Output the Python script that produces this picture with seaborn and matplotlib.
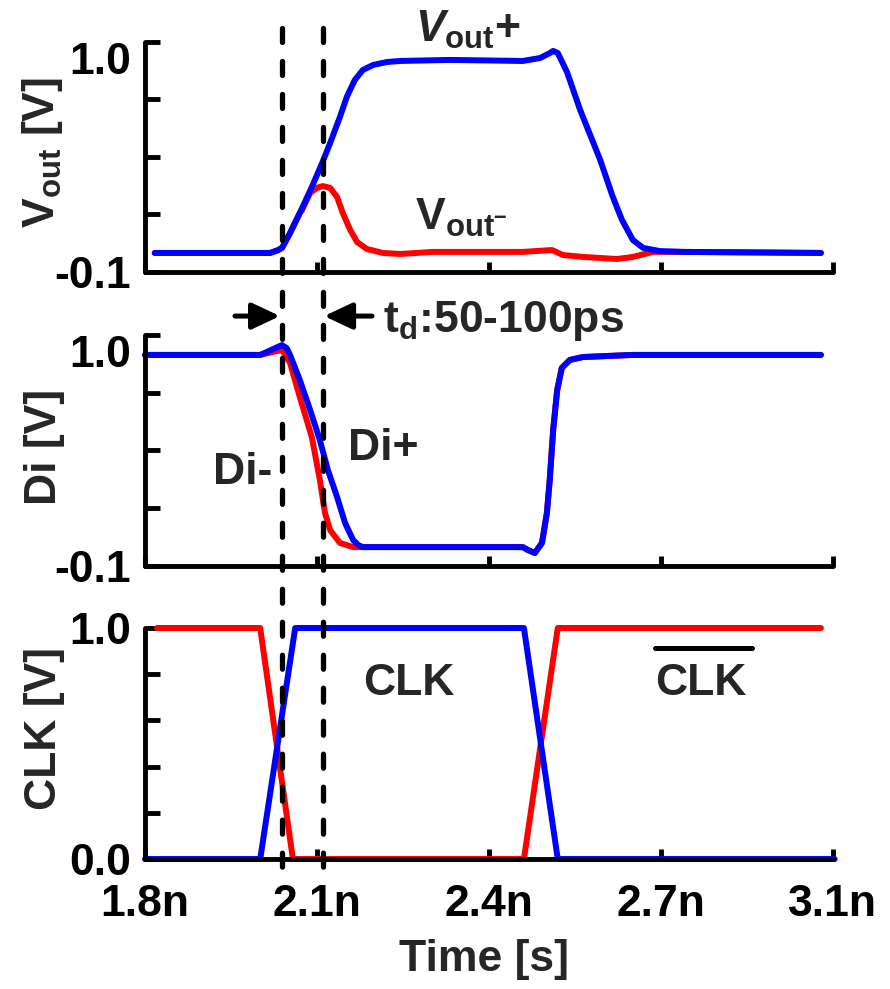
import matplotlib
matplotlib.use("Agg")
import matplotlib.pyplot as plt
import seaborn as sns
import pandas as pd
from matplotlib.lines import Line2D
from matplotlib.transforms import blended_transform_factory

sns.set_style("ticks")
plt.rcParams["font.family"] = ["Liberation Sans", "DejaVu Sans"]
plt.rcParams["font.weight"] = "bold"
plt.rcParams["mathtext.fontset"] = "custom"
plt.rcParams["mathtext.rm"] = "Liberation Sans:bold"
plt.rcParams["mathtext.bf"] = "Liberation Sans:bold"
plt.rcParams["mathtext.it"] = "Liberation Sans:italic:bold"
plt.rcParams["mathtext.sf"] = "Liberation Sans:bold"
plt.rcParams["mathtext.default"] = "bf"

# ---------------- data (time in ns, voltage in V) ----------------
vout_p_t = [1.817, 2.018, 2.030, 2.039, 2.053, 2.070, 2.091, 2.109, 2.123, 2.140,
            2.152, 2.166, 2.180, 2.198, 2.222, 2.245, 2.332, 2.459, 2.489, 2.505,
            2.512, 2.520, 2.536, 2.559, 2.594, 2.616, 2.632, 2.651, 2.669, 2.698,
            2.738, 2.979]
vout_p_v = [-0.009, -0.009, 0.002, 0.015, 0.086, 0.182, 0.306, 0.421, 0.517, 0.641,
            0.737, 0.818, 0.866, 0.890, 0.904, 0.909, 0.914, 0.909, 0.923, 0.945,
            0.957, 0.947, 0.857, 0.675, 0.436, 0.259, 0.149, 0.053, 0.015, 0.000,
            -0.004, -0.009]

vout_n_t = [1.817, 2.018, 2.030, 2.039, 2.053, 2.070, 2.074, 2.088, 2.100, 2.110,
            2.123, 2.135, 2.145, 2.158, 2.170, 2.187, 2.215, 2.245, 2.302, 2.459,
            2.510, 2.529, 2.564, 2.623, 2.651, 2.686, 2.738, 2.979]
vout_n_v = [-0.009, -0.009, 0.002, 0.015, 0.086, 0.182, 0.196, 0.278, 0.302, 0.311,
            0.302, 0.259, 0.182, 0.101, 0.043, 0.010, -0.009, -0.014, -0.004, -0.004,
            0.005, -0.019, -0.028, -0.038, -0.028, -0.004, -0.004, -0.009]

di_p_t = [1.800, 2.001, 2.039, 2.047, 2.053, 2.070, 2.088, 2.105, 2.119, 2.135,
          2.149, 2.163, 2.172, 2.180, 2.210, 2.459, 2.468, 2.480, 2.4925, 2.501,
          2.506, 2.512, 2.519, 2.527, 2.541, 2.564, 2.651, 2.979]
di_p_v = [0.905, 0.905, 0.952, 0.938, 0.905, 0.786, 0.643, 0.500, 0.357, 0.229,
          0.105, 0.024, 0.000, -0.010, -0.010, -0.010, -0.024, -0.038, 0.010, 0.152,
          0.310, 0.548, 0.738, 0.843, 0.881, 0.895, 0.905, 0.905]

di_n_t = [1.800, 2.001, 2.039, 2.053, 2.070, 2.091, 2.105, 2.114, 2.123, 2.140,
          2.163, 2.210, 2.459, 2.468, 2.480, 2.4925, 2.501, 2.506, 2.512, 2.519,
          2.527, 2.541, 2.564, 2.651, 2.979]
di_n_v = [0.905, 0.905, 0.929, 0.867, 0.705, 0.514, 0.310, 0.152, 0.071, 0.010,
          -0.010, -0.010, -0.010, -0.024, -0.038, 0.010, 0.152, 0.310, 0.548, 0.738,
          0.843, 0.881, 0.895, 0.905, 0.905]

clkb_t = [1.821, 2.001, 2.058, 2.461, 2.520, 2.979]
clkb_v = [1.0, 1.0, 0.0, 0.0, 1.0, 1.0]
clk_t = [1.800, 2.001, 2.062, 2.461, 2.520, 3.003]
clk_v = [0.0, 0.0, 1.0, 1.0, 0.0, 0.0]

x_ticks = [1.8, 2.1, 2.4, 2.7, 3.0]
x_ticklabels = ["1.8n", "2.1n", "2.4n", "2.7n", "3.1n"]
vout_yticks = [-0.1, 0.175, 0.45, 0.725, 1.0]
vout_yticklabels = ["-0.1", "", "", "", "1.0"]
di_yticks = [-0.1, 0.175, 0.45, 0.725, 1.0]
di_yticklabels = ["-0.1", "", "", "", "1.0"]
clk_yticks = [0.0, 0.2, 0.4, 0.6, 0.8, 1.0]
clk_yticklabels = ["0.0", "", "", "", "", "1.0"]
marker_times = [2.039, 2.111]

RED = "#ff0000"
BLUE = "#0000ff"
FS = 32
LW = 4.3
SPW = 3.5

fig = plt.figure(figsize=(8.9, 9.89), dpi=100)
left, width = 0.1629, 0.7730
ax1 = fig.add_axes([left, 0.7250, width, 0.2326])
ax2 = fig.add_axes([left, 0.4277, width, 0.2336])
ax3 = fig.add_axes([left, 0.1314, width, 0.2336])


def draw(ax, t, v, color):
    df = pd.DataFrame({"t": t, "v": v})
    sns.lineplot(data=df, x="t", y="v", ax=ax, color=color, lw=LW, sort=False,
                 estimator=None, clip_on=False, solid_capstyle="round",
                 solid_joinstyle="round")


draw(ax1, vout_n_t, vout_n_v, RED)
draw(ax1, vout_p_t, vout_p_v, BLUE)
draw(ax2, di_n_t, di_n_v, RED)
draw(ax2, di_p_t, di_p_v, BLUE)
draw(ax3, clkb_t, clkb_v, RED)
draw(ax3, clk_t, clk_v, BLUE)

for ax, yt, ytl, ylim in [(ax1, vout_yticks, vout_yticklabels, (-0.1, 1.0)),
                          (ax2, di_yticks, di_yticklabels, (-0.1, 1.0)),
                          (ax3, clk_yticks, clk_yticklabels, (0.0, 1.0))]:
    ax.set_xlim(1.8, 3.0)
    ax.set_ylim(*ylim)
    ax.set_xticks(x_ticks)
    ax.set_yticks(yt)
    ax.set_yticklabels(ytl, fontsize=FS, fontweight="bold")
    for s in ["top", "right"]:
        ax.spines[s].set_visible(False)
    for s in ["left", "bottom"]:
        ax.spines[s].set_linewidth(SPW)
        ax.spines[s].set_color("black")
        ax.spines[s].set_capstyle("round")
    ax.tick_params(axis="y", direction="in", length=10.5, width=SPW, pad=10,
                   colors="black")
    ax.tick_params(axis="x", direction="in", length=7.5, width=SPW, pad=18,
                   colors="black")
    ax.set_xlabel("")
    ax.patch.set_alpha(0)

ax1.set_xticklabels([])
ax2.set_xticklabels([])
ax3.set_xticklabels(x_ticklabels, fontsize=FS, fontweight="bold")
ax1.get_yticklabels()[-1].set_verticalalignment("top")
ax2.get_yticklabels()[-1].set_verticalalignment("top")

ax1.set_ylabel(r"$V_{out}$ [V]", fontsize=FS, fontweight="bold")
ax2.set_ylabel("Di [V]", fontsize=FS, fontweight="bold")
ax3.set_ylabel("CLK [V]", fontsize=FS, fontweight="bold")
ax1.yaxis.set_label_coords(-0.116, 0.52)
ax2.yaxis.set_label_coords(-0.116, 0.517)
ax3.yaxis.set_label_coords(-0.116, 0.565)
ax3.set_xlabel("Time [s]", fontsize=FS, fontweight="bold")
ax3.xaxis.set_label_coords(0.493, -0.345)
ax3.xaxis.label.set_verticalalignment("top")

# annotations
ax1.text(2.271, 1.0, r"$\mathit{V}_{out}$+", fontsize=FS, fontweight="bold",
         ha="left", va="baseline", clip_on=False)
ax1.text(2.271, 0.101, r"$V_{out^{-}}$", fontsize=FS, fontweight="bold",
         ha="left", va="baseline", clip_on=False)
ax2.text(2.215, 1.014, r"$t_d$:50-100ps", fontsize=FS, fontweight="bold",
         ha="left", va="baseline", clip_on=False)
ax2.text(1.9186, 0.290, "Di-", fontsize=FS, fontweight="bold",
         ha="left", va="baseline")
ax2.text(2.154, 0.405, "Di+", fontsize=FS, fontweight="bold",
         ha="left", va="baseline")
ax3.text(2.180, 0.71, "CLK", fontsize=FS, fontweight="bold",
         ha="left", va="baseline")
ax3.text(2.69, 0.71, "CLK", fontsize=FS, fontweight="bold",
         ha="left", va="baseline")
# overline above the second CLK label (CLK-bar)
ax3.add_line(Line2D([2.6895, 2.8587], [0.913, 0.913], color="black", lw=3.6,
                    solid_capstyle="round", clip_on=False))

arrow_kw = dict(arrowstyle="-|>,head_length=0.85,head_width=0.4", lw=3.6,
                color="black", shrinkA=0, shrinkB=0, mutation_scale=20)
ax2.annotate("", xy=(2.0355, 1.09), xytext=(1.957, 1.09), arrowprops=arrow_kw,
             annotation_clip=False)
ax2.annotate("", xy=(2.1125, 1.09), xytext=(2.196, 1.09), arrowprops=arrow_kw,
             annotation_clip=False)

# dashed vertical markers spanning all panels
trans = blended_transform_factory(ax3.transData, fig.transFigure)
for xm in marker_times:
    ln = Line2D([xm, xm], [1 - 28 / 989, 1 - 872 / 989], transform=trans,
                color="black", lw=3.8, dashes=(2.65, 3.6),
                dash_capstyle="round")
    fig.add_artist(ln)

fig.savefig("out.png", dpi=100)
